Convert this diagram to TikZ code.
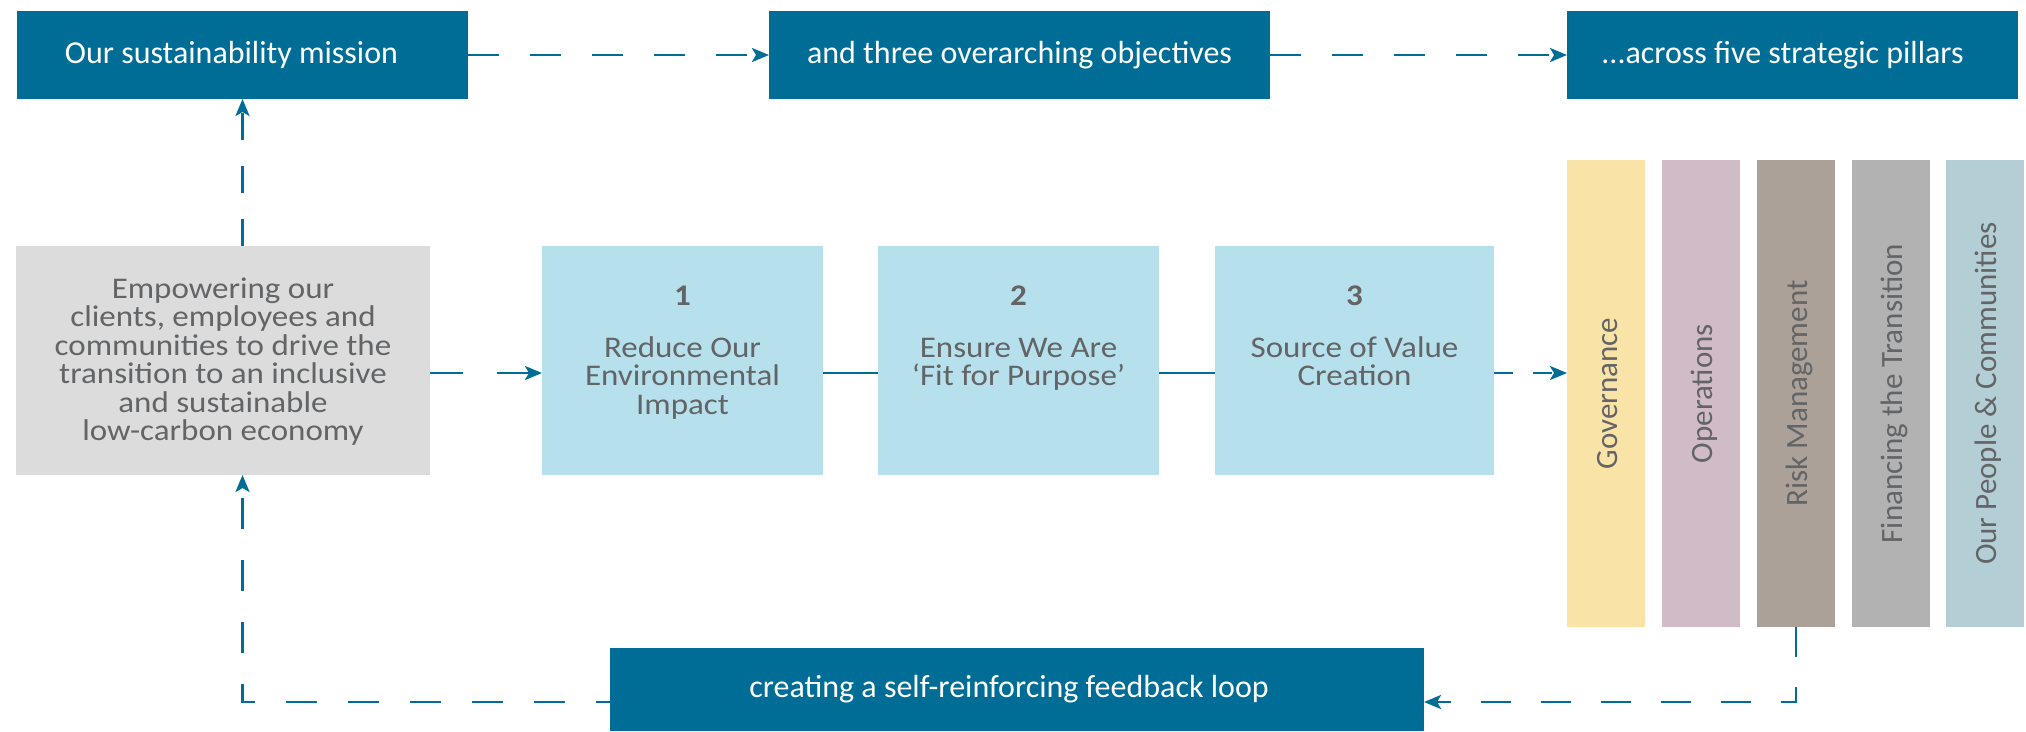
\documentclass[tikz,border=0pt]{standalone}
\usepackage{fontspec}
\setmainfont{Carlito}
\newfontfamily\widefont[FakeStretch=1.1]{Carlito}
\usetikzlibrary{arrows.meta}

\definecolor{navy}{HTML}{006D96}
\definecolor{skyfill}{HTML}{B6E0EC}
\definecolor{greyfill}{HTML}{DCDCDC}
\definecolor{inkgrey}{HTML}{636466}
\definecolor{govfill}{HTML}{F9E3A7}
\definecolor{opsfill}{HTML}{D0BBC6}
\definecolor{riskfill}{HTML}{ABA198}
\definecolor{finfill}{HTML}{B2B2B2}
\definecolor{peoplefill}{HTML}{B3CED5}

% top-aligned multi-line content of a fixed-height box
\newcommand\stackedtext[3]{\parbox[c][229pt][t]{#1}{\lineskiplimit=-20pt\relax\centering\rule{0pt}{#2}#3}}
% label set a little left of the box centre
\newcommand\leftish[2]{\hspace*{-#1}#2}

\begin{document}
\begin{tikzpicture}[x=1pt,y=-1pt,
  headbox/.style={fill=navy, text=white, inner sep=0pt, outer sep=0pt,
    minimum height=88pt, anchor=north west,
    font=\fontsize{32}{38}\selectfont},
  midbox/.style={inner sep=0pt, outer sep=0pt, anchor=north west,
    minimum height=229pt, text=inkgrey,
    font=\widefont\fontsize{30}{28.5}\selectfont},
  greybox/.style={midbox, fill=greyfill, minimum width=414pt},
  objbox/.style={midbox, fill=skyfill},
  pillarbox/.style={inner sep=0pt, outer sep=0pt, anchor=north west,
    minimum width=78pt, minimum height=467pt},
  pillarlabel/.style={rotate=90, anchor=base, inner sep=0pt, text=inkgrey,
    font=\fontsize{31}{36}\selectfont},
  flow/.style={draw=navy, line width=2.8pt, dash pattern=on 31pt off 31pt,
    -{Stealth[length=17pt,width=14pt,inset=4pt]}},
  link/.style={draw=navy, line width=2.8pt},
]
\useasboundingbox (0,0) rectangle (2026,731);

% headline boxes
\node[headbox, minimum width=451pt] (mission) at (17,11) {\leftish{22pt}{Our sustainability mission}};
\node[headbox, minimum width=501pt] (objectives) at (769,11) {and three overarching objectives};
\node[headbox, minimum width=451pt] (pillars) at (1567,11) {\leftish{20pt}{...across five strategic pillars}};

% mission statement and the three objectives
\node[greybox] (empower) at (16,246) {\stackedtext{400pt}{52pt}{Empowering our\\clients, employees and\\communities to drive the\\transition to an inclusive\\and sustainable\\low-carbon economy}};
\node[objbox, minimum width=281pt] (obj1) at (542,246) {\stackedtext{270pt}{59pt}{\textbf{1}\\[23.5pt]Reduce Our\\Environmental\\Impact}};
\node[objbox, minimum width=281pt] (obj2) at (878,246) {\stackedtext{270pt}{59pt}{\textbf{2}\\[23.5pt]Ensure We Are\\‘Fit for Purpose’}};
\node[objbox, minimum width=279pt] (obj3) at (1215,246) {\stackedtext{270pt}{59pt}{\textbf{3}\\[23.5pt]Source of Value\\Creation}};

% five strategic pillars
\node[pillarbox, fill=govfill] (gov) at (1567,160) {};
\node[pillarbox, fill=opsfill] (ops) at (1662,160) {};
\node[pillarbox, fill=riskfill] (risk) at (1757,160) {};
\node[pillarbox, fill=finfill] (fin) at (1852,160) {};
\node[pillarbox, fill=peoplefill] (people) at (1946,160) {};
\node[pillarlabel] (govtext) at ([xshift=11pt]gov.center) {Governance};
\node[pillarlabel] (opstext) at ([xshift=11pt]ops.center) {Operations};
\node[pillarlabel] (risktext) at ([xshift=11pt]risk.center) {Risk Management};
\node[pillarlabel] (fintext) at ([xshift=11pt]fin.center) {Financing the Transition};
\node[pillarlabel] (peopletext) at ([xshift=11pt]people.center) {Our People \& Communities};

% feedback box
\node[headbox, minimum width=814pt, minimum height=83pt] (loop) at (610,648) {\leftish{16pt}{creating a self-reinforcing feedback loop}};

% connectors
\coordinate (midrow) at (0,373);
\coordinate (returnrow) at (0,702);
\draw[flow] (mission.east) -- (objectives.west);
\draw[flow] (objectives.east) -- (pillars.west);
\draw[flow, dash pattern=on 27pt off 26pt] (empower.north -| mission.south) -- (mission.south);
\draw[flow, dash pattern=on 33pt off 34pt] (empower.east |- midrow) -- (obj1.west |- midrow);
\draw[link] (obj1.east |- midrow) -- (obj2.west |- midrow);
\draw[link] (obj2.east |- midrow) -- (obj3.west |- midrow);
\draw[flow, dash pattern=on 19pt off 20pt] (obj3.east |- midrow) -- (gov.west |- midrow);
\draw[flow, dash pattern=on 30pt off 30pt] (risk.south) |- (loop.east |- returnrow);
\draw[flow, dash phase=17pt] (loop.west |- returnrow) -| (empower.south -| mission.south);
\end{tikzpicture}
\end{document}
